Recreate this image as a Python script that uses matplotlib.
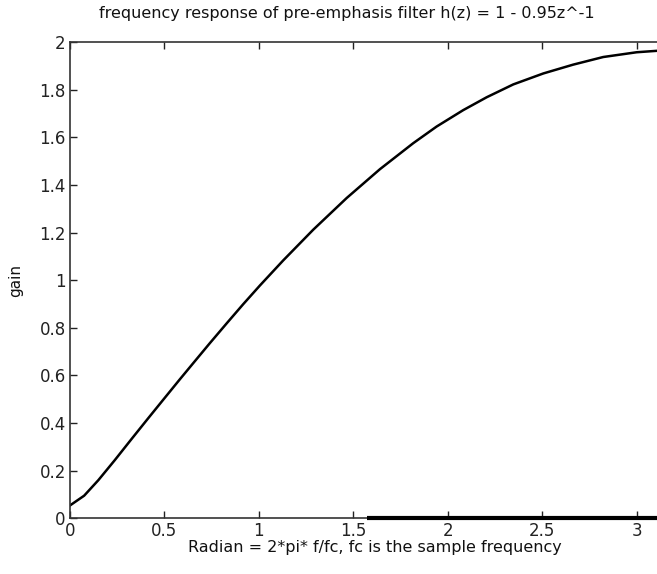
import numpy as np
import matplotlib
matplotlib.use("Agg")
import matplotlib.pyplot as plt

plt.rcParams['font.family'] = ['DejaVu Sans']

# values
radian = [0.0, 0.075, 0.15, 0.238, 0.327, 0.415, 0.503, 0.582, 0.653, 0.74, 0.83,
          0.917, 1.006, 1.129, 1.288, 1.465, 1.641, 1.817, 1.941, 2.082, 2.206,
          2.347, 2.506, 2.664, 2.823, 3.0, 3.1416]
gain = [0.054, 0.095, 0.16, 0.245, 0.334, 0.421, 0.507, 0.584, 0.652, 0.735, 0.819,
        0.899, 0.978, 1.083, 1.212, 1.345, 1.466, 1.575, 1.645, 1.714, 1.768,
        1.822, 1.868, 1.905, 1.937, 1.957, 1.965]
zero_x = [1.5708, 3.1416]
zero_y = [0.0, 0.0]

xticks = [0, 0.5, 1, 1.5, 2, 2.5, 3]
xticklabels = ['0', '0.5', '1', '1.5', '2', '2.5', '3']
yticks = [0, 0.2, 0.4, 0.6, 0.8, 1, 1.2, 1.4, 1.6, 1.8, 2]
yticklabels = ['0', '0.2', '0.4', '0.6', '0.8', '1', '1.2', '1.4', '1.6', '1.8', '2']

fig = plt.figure(figsize=(6.57, 5.74), dpi=100)
ax = fig.add_axes([0.1065, 0.097, 0.9032, 0.8298])
ax.plot(radian, gain, color='black', lw=1.8, solid_joinstyle='round')
ax.plot(zero_x, zero_y, color='black', lw=3.0, solid_capstyle='butt',
        clip_on=False, zorder=5)
ax.set_xlim(0, np.pi)
ax.set_ylim(0, 2)
ax.set_xticks(xticks)
ax.set_xticklabels(xticklabels)
ax.set_yticks(yticks)
ax.set_yticklabels(yticklabels)
ax.tick_params(direction='in', length=5, width=1, top=True, right=False,
               labelsize=12, colors='#222222', pad=3)
for s in ax.spines.values():
    s.set_color('#333333')
    s.set_linewidth(1.2)
ax.set_title('frequency response of pre-emphasis filter h(z) = 1 - 0.95z^-1',
             fontsize=11.5, pad=17, color='#111111', x=0.467)
ax.set_xlabel('Radian = 2*pi* f/fc, fc is the sample frequency', fontsize=11.5,
              labelpad=0, color='#111111')
ax.xaxis.set_label_coords(0.514, -0.045)
ax.set_ylabel('gain', fontsize=11, labelpad=12, color='#111111')
fig.savefig('out.png', dpi=100)
